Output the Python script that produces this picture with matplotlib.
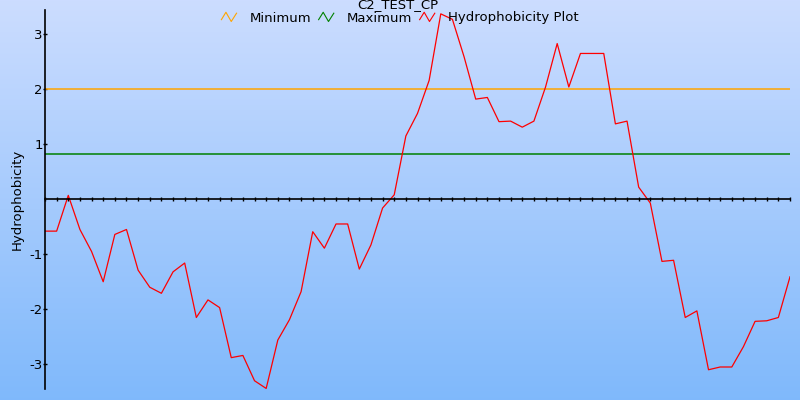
import numpy as np
import matplotlib
matplotlib.use("Agg")
import matplotlib.pyplot as plt
from matplotlib.lines import Line2D
from matplotlib.legend_handler import HandlerBase

title = "C2_TEST_CP"
y_label = "Hydrophobicity"
minimum_value = 2.0
maximum_value = 0.82
hydro_values = [
    -0.58, -0.58, 0.07, -0.55, -0.95, -1.50, -0.64, -0.55, -1.29, -1.60,
    -1.71, -1.32, -1.16, -2.15, -1.83, -1.97, -2.88, -2.84, -3.30, -3.44,
    -2.56, -2.19, -1.68, -0.59, -0.89, -0.45, -0.45, -1.27, -0.83, -0.16,
    0.08, 1.15, 1.56, 2.16, 3.37, 3.27, 2.59, 1.82, 1.85, 1.41,
    1.42, 1.31, 1.42, 2.04, 2.83, 2.04, 2.65, 2.65, 2.65, 1.37,
    1.42, 0.22, -0.07, -1.13, -1.11, -2.15, -2.03, -3.10, -3.05, -3.05,
    -2.68, -2.22, -2.21, -2.15, -1.41,
]
y_ticks = [-3, -2, -1, 1, 2, 3]
legend_labels = ["Minimum", "Maximum", "Hydrophobicity Plot"]

x = np.arange(len(hydro_values))

fig = plt.figure(figsize=(8, 4), dpi=100)

# gradient background
bg = fig.add_axes([0, 0, 1, 1], zorder=-10)
top = np.array([0.80, 0.866, 1.0])
bot = np.array([0.50, 0.725, 0.985])
t = np.linspace(0, 1, 256)[:, None]
grad = (top[None, :] * (1 - t) + bot[None, :] * t)[:, None, :]
bg.imshow(grad, aspect="auto", extent=[0, 1, 0, 1])
bg.set_axis_off()

ax = fig.add_axes([45 / 800, 11 / 400, 745 / 800, 379 / 400])
ax.patch.set_alpha(0)
ax.set_xlim(0, len(hydro_values) - 1)
ax.set_ylim(-3.45, 3.44)

l_min = ax.axhline(minimum_value, color="#FFA500", lw=1.1)
l_max = ax.axhline(maximum_value, color="#008000", lw=1.1)
l_h, = ax.plot(x, hydro_values, color="#FF0000", lw=0.9)

for s in ["top", "right"]:
    ax.spines[s].set_visible(False)
ax.spines["bottom"].set_position(("data", 0))
ax.spines["bottom"].set_linewidth(1.2)
ax.spines["left"].set_linewidth(1.2)
ax.set_xticks(x)
ax.set_xticklabels([])
ax.tick_params(axis="x", direction="inout", length=3.4, width=1.0)
ax.set_yticks(y_ticks)
ax.set_yticklabels([str(v) for v in y_ticks])
ax.tick_params(axis="y", direction="inout", length=3.2, width=1.0, labelsize=9.5, pad=0)
ax.set_ylabel(y_label, fontsize=9.5, labelpad=4)


class ZigzagHandler(HandlerBase):
    def create_artists(self, legend, orig_handle, xdescent, ydescent,
                       width, height, fontsize, trans):
        xs = np.array([0.0, 0.3, 0.65, 1.0]) * width - xdescent
        ys = np.array([0.2, 1.0, 0.0, 0.9]) * height - ydescent
        ln = Line2D(xs, ys, color=orig_handle.get_color(), lw=0.8)
        ln.set_transform(trans)
        return [ln]


h = ZigzagHandler()
fig.legend([l_min, l_max, l_h], legend_labels, loc="center",
           bbox_to_anchor=(0.5, 1 - 18 / 400), ncol=3, frameon=False,
           fontsize=9.5, handlelength=1.15, handletextpad=1.0,
           columnspacing=0.55, handler_map={l_min: h, l_max: h, l_h: h},
           borderpad=0)
fig.text(398 / 800, 1 - 5 / 400, title, ha="center", va="center", fontsize=9.5)

fig.savefig("out.png", dpi=100)
